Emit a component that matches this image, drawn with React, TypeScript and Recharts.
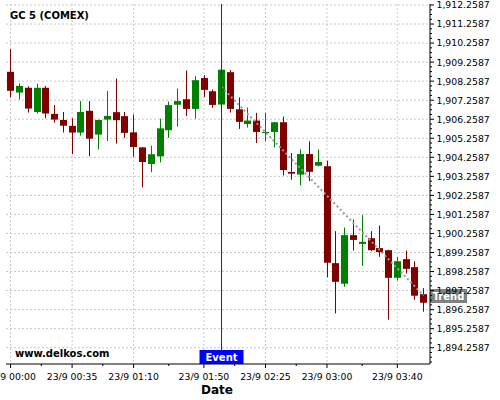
import React from 'react';
import {
  ComposedChart, Bar, Line, XAxis, YAxis, CartesianGrid, ReferenceLine,
} from 'recharts';

// 5-minute candles, 23/9 00:00 .. 03:55
const TIMES = [
  '00:00', '00:05', '00:10', '00:15', '00:20', '00:25', '00:30', '00:35',
  '00:40', '00:45', '00:50', '00:55', '01:00', '01:05', '01:10', '01:15',
  '01:20', '01:25', '01:30', '01:35', '01:40', '01:45', '01:50', '01:55',
  '02:00', '02:05', '02:10', '02:15', '02:20', '02:25', '02:30', '02:35',
  '02:40', '02:45', '02:50', '02:55', '03:00', '03:05', '03:10', '03:15',
  '03:20', '03:25', '03:30', '03:35', '03:40', '03:45', '03:50', '03:55',
];

const OPEN = [
  1908.75, 1907.66, 1907.91, 1906.64, 1907.91, 1906.54, 1906.22, 1905.91,
  1905.56, 1906.70, 1905.45, 1906.24, 1906.63, 1906.42, 1905.57, 1904.78,
  1903.91, 1904.31, 1905.68, 1907.02, 1907.31, 1906.80, 1908.42, 1907.73,
  1907.03, 1908.73, 1906.78, 1906.01, 1906.19, 1905.54, 1905.59, 1906.10,
  1903.49, 1903.35, 1904.43, 1903.82, 1903.79, 1898.70, 1897.62, 1900.17,
  1899.71, 1900.01, 1899.49, 1899.38, 1897.93, 1898.91, 1898.49, 1897.07,
];
const HIGH = [
  1909.94, 1908.14, 1907.99, 1908.12, 1908.01, 1907.01, 1906.64, 1906.31,
  1907.21, 1907.21, 1906.24, 1907.75, 1908.40, 1906.64, 1906.50, 1904.80,
  1904.87, 1906.29, 1907.19, 1907.87, 1908.82, 1908.52, 1908.57, 1907.82,
  1908.88, 1908.84, 1907.40, 1906.87, 1906.59, 1906.59, 1906.12, 1906.40,
  1904.49, 1904.68, 1905.10, 1904.68, 1904.08, 1900.38, 1900.57, 1900.99,
  1901.22, 1900.38, 1900.68, 1899.40, 1899.01, 1899.36, 1898.79, 1897.39,
];
const LOW = [
  1907.40, 1907.29, 1906.61, 1906.56, 1906.31, 1906.08, 1905.56, 1904.42,
  1905.40, 1904.31, 1904.68, 1905.12, 1904.98, 1905.28, 1904.29, 1902.68,
  1903.47, 1903.99, 1905.28, 1905.87, 1906.42, 1906.29, 1907.42, 1906.86,
  1907.01, 1906.61, 1905.75, 1905.82, 1905.01, 1905.10, 1904.78, 1903.31,
  1903.08, 1902.79, 1903.01, 1903.79, 1897.96, 1896.06, 1897.46, 1899.36,
  1898.56, 1899.33, 1899.03, 1895.73, 1897.79, 1898.16, 1896.78, 1896.15,
];
const CLOSE = [
  1907.75, 1908.01, 1906.82, 1907.91, 1906.56, 1906.24, 1905.92, 1905.56,
  1906.64, 1905.24, 1906.22, 1906.43, 1906.21, 1905.54, 1904.80, 1904.01,
  1904.42, 1905.78, 1907.00, 1907.21, 1906.80, 1908.31, 1907.80, 1907.01,
  1908.86, 1906.80, 1906.12, 1906.19, 1905.59, 1905.59, 1906.10, 1903.59,
  1903.40, 1904.43, 1903.50, 1904.01, 1898.72, 1897.72, 1900.17, 1899.92,
  1899.82, 1899.38, 1899.28, 1897.93, 1898.80, 1898.40, 1896.99, 1896.62,
];

// event + trend
const EVENT_TIME = '02:00';
const TREND_TIMES = ['02:00', '03:55'];
const TREND_VALUES = [1907.96, 1897.0];

const X_TICK_TIMES = ['00:00', '00:35', '01:10', '01:50', '02:25', '03:00', '03:40'];
const X_TICK_LABELS = [
  '23/9 00:00', '23/9 00:35', '23/9 01:10', '23/9 01:50',
  '23/9 02:25', '23/9 03:00', '23/9 03:40',
];
const Y_TICKS = [
  1912.2587, 1911.2587, 1910.2587, 1909.2587, 1908.2587, 1907.2587, 1906.2587,
  1905.2587, 1904.2587, 1903.2587, 1902.2587, 1901.2587, 1900.2587, 1899.2587,
  1898.2587, 1897.2587, 1896.2587, 1895.2587, 1894.2587,
];

const RED = '#800000';
const GREEN = '#008000';
const FONT = 'DejaVu Sans';
const Y_DOMAIN = [1893.403, 1912.311];
const X_DOMAIN = [-2.6, 238.6];

const toMin = (s: string) => {
  const [h, m] = s.split(':').map(Number);
  return h * 60 + m;
};

const data = TIMES.map((s, i) => {
  const t = toMin(s);
  const ti = TREND_TIMES.indexOf(s);
  return {
    t,
    open: OPEN[i], high: HIGH[i], low: LOW[i], close: CLOSE[i],
    range: [LOW[i], HIGH[i]],
    trend: ti >= 0 ? TREND_VALUES[ti] : null,
  };
});

const xMajor = X_TICK_TIMES.map(toMin);
const xMinor = xMajor.slice(1).map((v, i) => (v + xMajor[i]) / 2);
const xTicks = [...xMajor, ...xMinor].sort((a, b) => a - b);

const yTicks: number[] = [];
Y_TICKS.forEach((v) => {
  [0, 0.25, 0.5, 0.75].forEach((d) => {
    const tv = v - d;
    if (tv > Y_DOMAIN[0] && tv < Y_DOMAIN[1]) yTicks.push(Number(tv.toFixed(4)));
  });
});

const fmtY = (v: number) =>
  v.toLocaleString('en-US', { minimumFractionDigits: 4, maximumFractionDigits: 4 });

function Candle(props: any) {
  const { x, y, width, height, payload } = props;
  const { open, close, high, low } = payload;
  const top = Math.min(y, y + height);
  const h = Math.abs(height);
  const span = high - low || 1;
  const py = (v: number) => top + ((high - v) / span) * h;
  const cx = Math.round(x + width / 2 - 0.5);
  const color = close >= open ? GREEN : RED;
  const bt = py(Math.max(open, close));
  const bb = py(Math.min(open, close));
  return (
    <g>
      <rect x={cx} y={top} width={1} height={h} fill={color} />
      <rect x={cx - 3} y={bt} width={7} height={Math.max(1, bb - bt)} fill={color} />
    </g>
  );
}

function XTick({ x, y, payload }: any) {
  const i = xMajor.indexOf(payload.value);
  const major = i >= 0;
  return (
    <g>
      <line x1={x} x2={x} y1={y} y2={y + (major ? 4 : 2)} stroke="#000" />
      {major && (
        <text x={x} y={y + 16} textAnchor="middle" fontSize={9.3} fontFamily={FONT} fill="#000">
          {X_TICK_LABELS[i]}
        </text>
      )}
    </g>
  );
}

function YTick({ x, y, payload }: any) {
  const v = payload.value;
  const major = Y_TICKS.some((t) => Math.abs(t - v) < 1e-6);
  return (
    <g>
      <line x1={x} x2={x + (major ? 4 : 2)} y1={y} y2={y} stroke="#000" />
      {major && (
        <text x={x + 6.5} y={y + 3.4} fontSize={9.3} fontFamily={FONT} fill="#000">
          {fmtY(v)}
        </text>
      )}
    </g>
  );
}

function EventLabel({ viewBox }: any) {
  const cx = viewBox.x;
  const bottom = viewBox.y + viewBox.height;
  return (
    <g>
      <rect x={cx - 22} y={bottom - 14} width={44} height={14} fill="#0000ff" />
      <text x={cx} y={bottom - 3.5} textAnchor="middle" fontSize={10} fontWeight="bold"
            fontFamily={FONT} fill="#fff">Event</text>
    </g>
  );
}

function TrendLabel({ viewBox }: any) {
  const left = viewBox.x + viewBox.width;
  const cy = viewBox.y;
  return (
    <g>
      <rect x={left} y={cy - 6.5} width={37} height={14} fill="#808080" />
      <text x={left + 18.5} y={cy + 4} textAnchor="middle" fontSize={10} fontWeight="bold"
            fontFamily={FONT} fill="#fff">Trend</text>
    </g>
  );
}

export default function App() {
  return (
    <div style={{ position: 'absolute', left: 0, top: 0, width: 500, height: 400, background: '#fff' }}>
      <ComposedChart width={500} height={400} data={data}
                     margin={{ top: 4, right: 0, bottom: 0, left: 6 }}>
        <CartesianGrid horizontalValues={Y_TICKS} verticalValues={xMajor}
                       stroke="#c8c8c8" strokeDasharray="2 2" />
        <XAxis type="number" dataKey="t" domain={X_DOMAIN} allowDataOverflow
               ticks={xTicks} interval={0} tick={<XTick />} tickLine={false}
               tickSize={0} tickMargin={0} height={36} axisLine={{ stroke: '#000' }} />
        <YAxis orientation="right" type="number" domain={Y_DOMAIN} allowDataOverflow
               ticks={yTicks} interval={0} tick={<YTick />} tickLine={false}
               tickSize={0} tickMargin={0} width={70} axisLine={{ stroke: '#000' }} />
        <Line dataKey="trend" stroke="#999" strokeWidth={2} strokeDasharray="2 2.6"
              dot={false} connectNulls isAnimationActive={false} />
        <Bar dataKey="range" barSize={7} shape={<Candle />} isAnimationActive={false} />
        <ReferenceLine x={toMin(EVENT_TIME)} stroke="#1a1acc" strokeWidth={1}
                       label={<EventLabel />} />
        <ReferenceLine y={TREND_VALUES[1]} stroke="none" label={<TrendLabel />} />
        <text x={10} y={19} fontSize={10} fontWeight="bold" fontFamily={FONT} fill="#000">
          GC 5 (COMEX)
        </text>
        <text x={15} y={357} fontSize={10} fontWeight="bold" fontFamily={FONT} fill="#000">
          www.delkos.com
        </text>
        <text x={217} y={394} textAnchor="middle" fontSize={12} fontWeight="bold"
              fontFamily={FONT} fill="#000">Date</text>
      </ComposedChart>
    </div>
  );
}
